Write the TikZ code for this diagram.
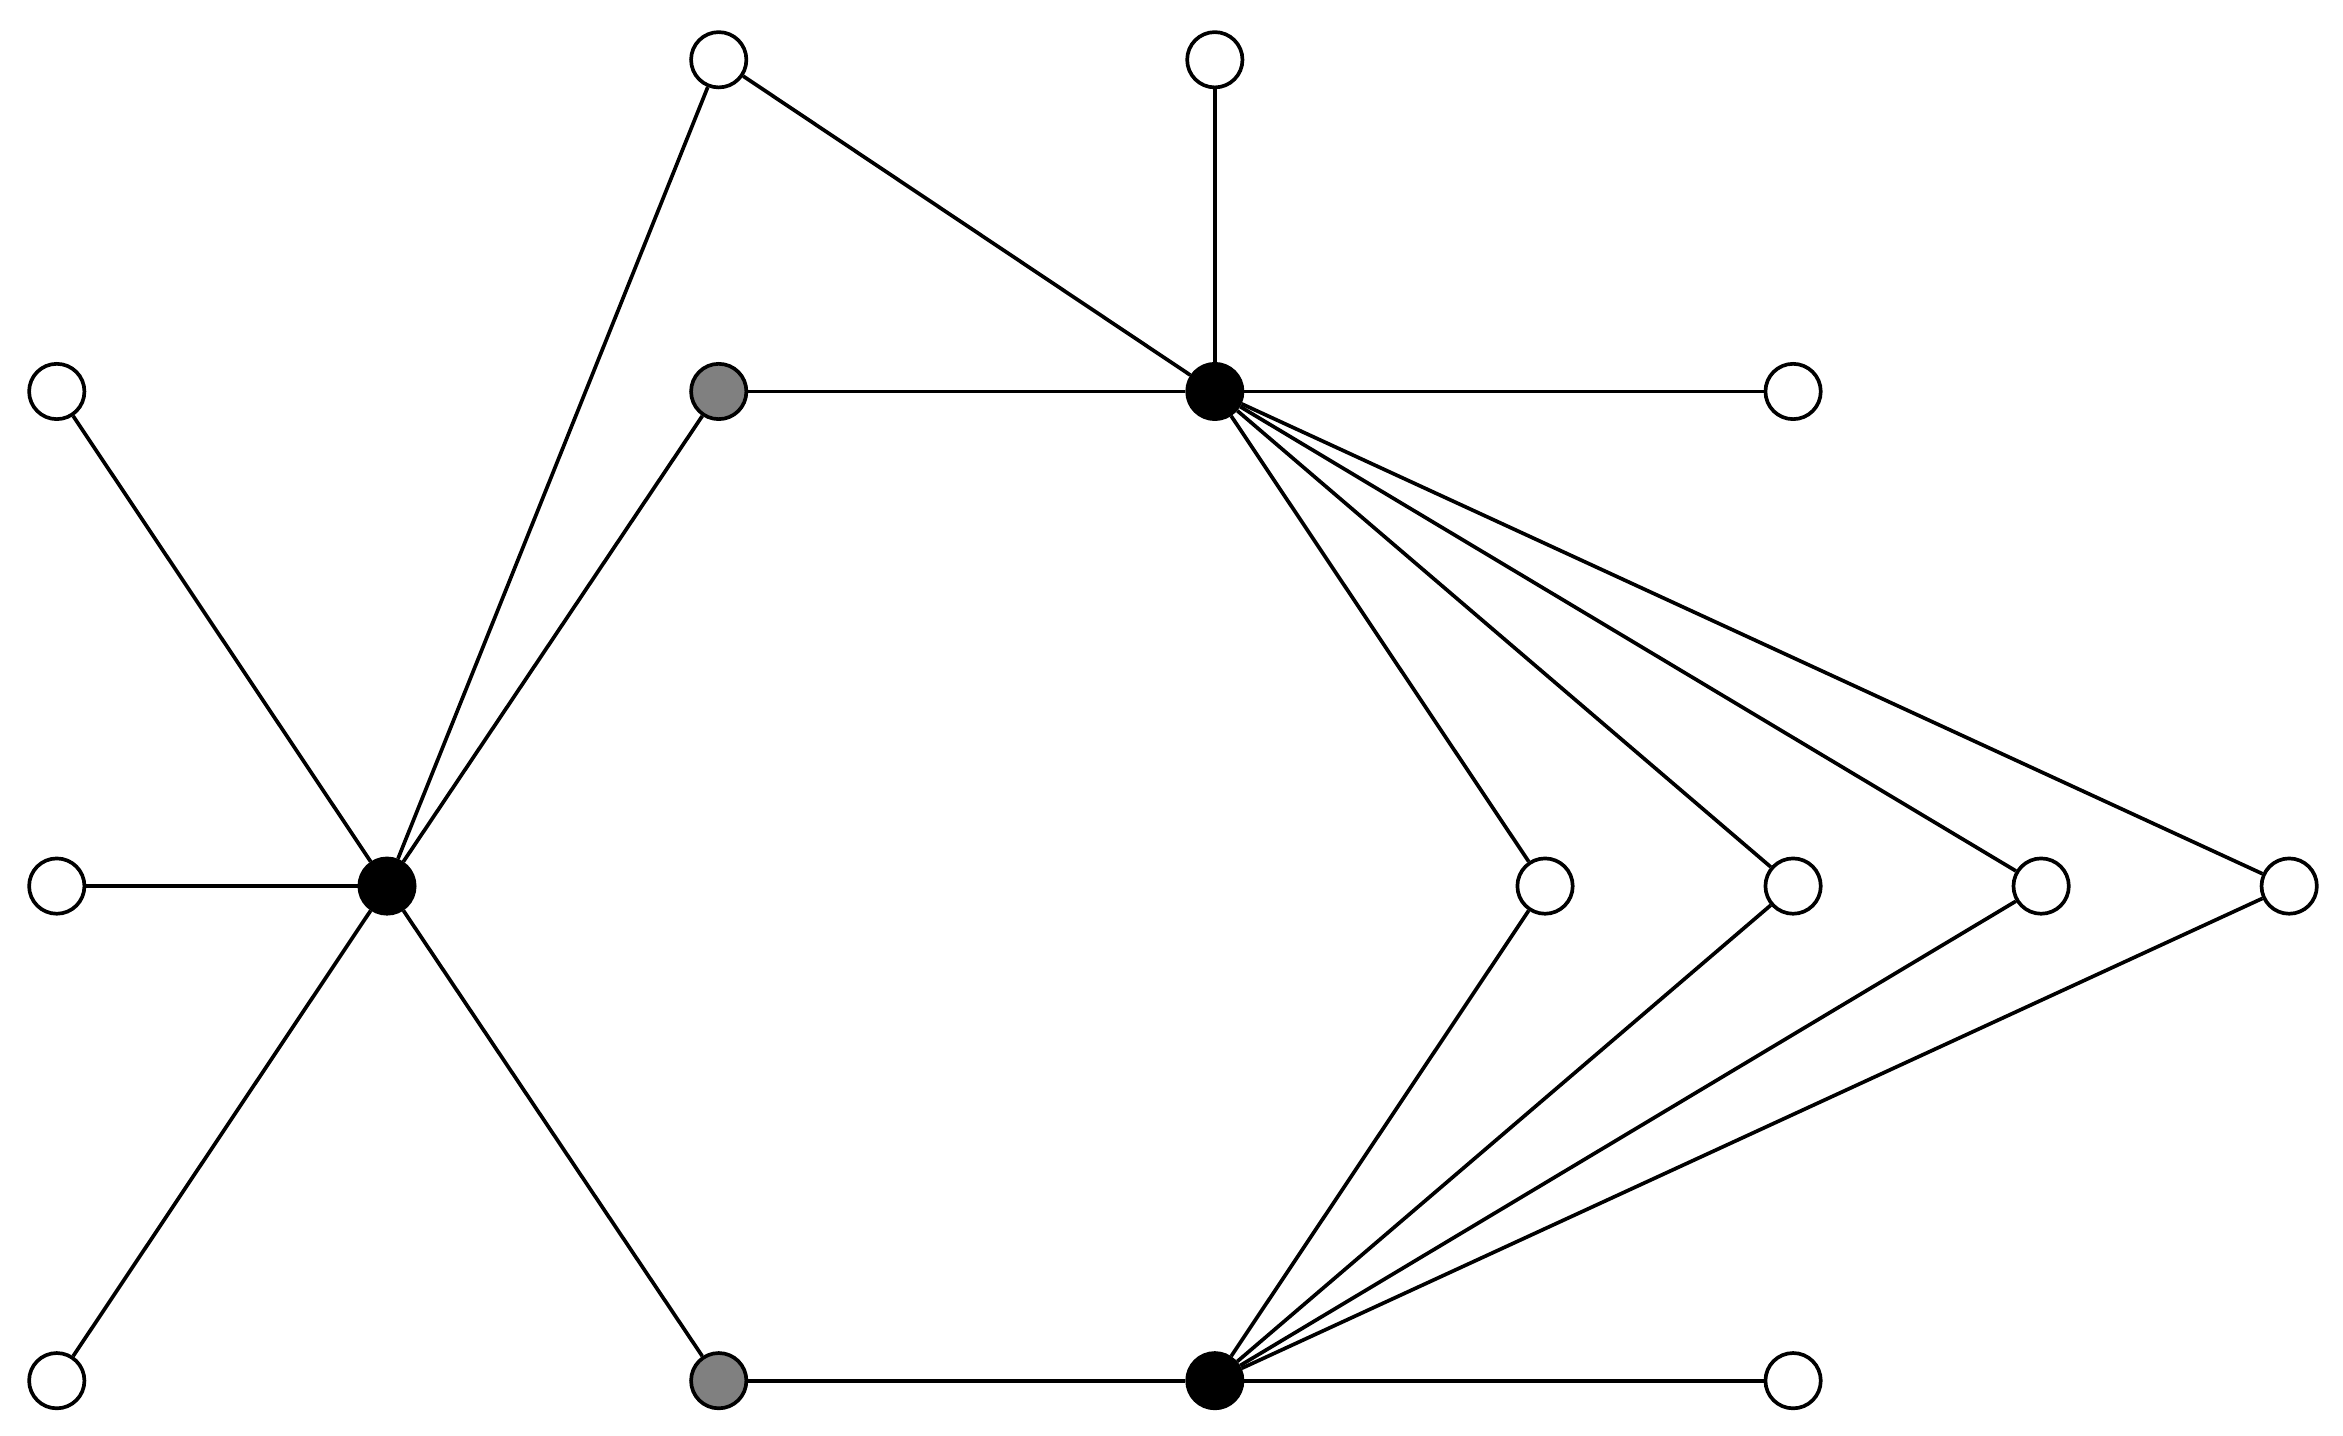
\documentclass[tikz,border=0pt]{standalone}
\begin{document}
\begin{tikzpicture}[x=0.01cm,y=-0.01cm,line width=0.7pt,
 v/.style={circle,draw,fill=white,minimum size=0.37cm,inner sep=0pt},
 b/.style={v,fill=black},
 g/.style={v,fill=gray}]
\useasboundingbox (0,0) rectangle (1568,961);
\node[v] (t1) at (481,40) {};
\node[v] (t2) at (813,40) {};
\node[v] (l1) at (38,262) {};
\node[g] (g1) at (481,262) {};
\node[b] (b1) at (813,262) {};
\node[v] (r1) at (1200,262) {};
\node[v] (l2) at (38,593) {};
\node[b] (c) at (259,593) {};
\node[v] (m1) at (1034,593) {};
\node[v] (m2) at (1200,593) {};
\node[v] (m3) at (1366,593) {};
\node[v] (m4) at (1532,593) {};
\node[v] (l3) at (38,924) {};
\node[g] (g2) at (481,924) {};
\node[b] (b2) at (813,924) {};
\node[v] (r3) at (1200,924) {};
\foreach \a/\b in {t1/c,t1/b1,t2/b1,l1/c,l2/c,l3/c,g1/c,g2/c,g1/b1,b1/r1,g2/b2,b2/r3,b1/m1,b1/m2,b1/m3,b1/m4,b2/m1,b2/m2,b2/m3,b2/m4}
  \draw (\a) -- (\b);
\end{tikzpicture}
\end{document}
